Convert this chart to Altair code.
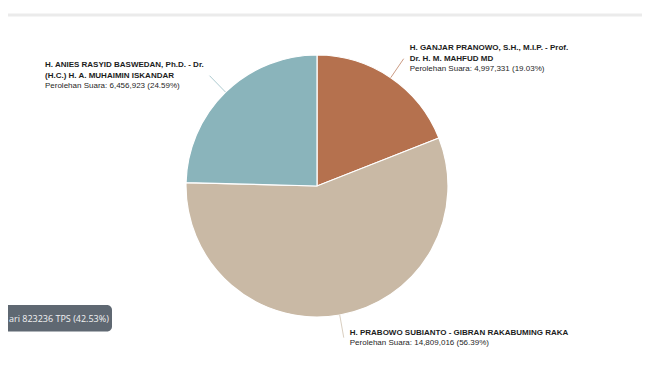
import math
import altair as alt
import pandas as pd

# ---------------- data ----------------
name_lines = [
    ["H. GANJAR PRANOWO, S.H., M.I.P. - Prof.", "Dr. H. M. MAHFUD MD"],
    ["H. PRABOWO SUBIANTO - GIBRAN RAKABUMING RAKA"],
    ["H. ANIES RASYID BASWEDAN, Ph.D. - Dr.", "(H.C.) H. A. MUHAIMIN ISKANDAR"],
]
votes = [4997331, 14809016, 6456923]
vote_labels = ["4,997,331", "14,809,016", "6,456,923"]
shares = ["19.03%", "56.39%", "24.59%"]
colors = ["#B5714E", "#C9B9A5", "#8AB4BB"]
progress_text = "ari 823236 TPS (42.53%)"

# ---------------- layout / style ----------------
W, H = 634, 350
CX, CY, R = 309, 178, 131
CONN = 23          # connector length
GAP_R, GAP_L = 6, 5
LH = 10.3
FS = 8
FONT = "Liberation Sans"

# Arial-bold advance widths (1/1000 em) for label-block width estimation
_w = {" ": 278, ".": 278, ",": 278, "-": 333, "(": 333, ")": 333, ":": 333, "%": 889}
_w.update({d: 556 for d in "0123456789"})
_w.update(dict(zip("ABCDEFGHIJKLMNOPQRSTUVWXYZ",
                   [722, 722, 722, 722, 667, 611, 778, 722, 278, 556, 722, 611, 833,
                    722, 778, 667, 778, 722, 667, 611, 722, 667, 944, 667, 667, 611])))
_w.update(dict(zip("abcdefghijklmnopqrstuvwxyz",
                   [556, 611, 556, 611, 556, 333, 611, 611, 278, 278, 556, 278, 889,
                    611, 611, 611, 611, 389, 556, 333, 611, 556, 778, 556, 556, 500])))


def text_width(s):
    return sum(_w.get(c, 600) for c in s) / 1000 * FS


total = sum(votes)
pie_df = pd.DataFrame({
    "name": [" ".join(n) for n in name_lines],
    "votes": votes,
    "idx": list(range(len(votes))),
})

conn_rows, line_rows = [], []
cum = 0
for i, v in enumerate(votes):
    mid = (cum + v / 2) / total * 2 * math.pi
    cum += v
    s, c = math.sin(mid), math.cos(mid)
    x0, y0 = CX + R * s, CY - R * c
    x1, y1 = CX + (R + CONN) * s, CY - (R + CONN) * c
    conn_rows.append({"x": x0, "y": y0, "x2": x1, "y2": y1, "idx": i})
    lines = [(t, True) for t in name_lines[i]]
    lines.append((f"Perolehan Suara: {vote_labels[i]} ({shares[i]})", False))
    if s >= 0:
        tx = x1 + GAP_R
    else:
        tx = x1 - GAP_L - max(text_width(t) for t, _ in lines)
    n = len(lines)
    for j, (t, b) in enumerate(lines):
        line_rows.append({"x": tx, "y": y1 + (j - (n - 1) / 2) * LH, "text": t, "bold": b})

conn_df = pd.DataFrame(conn_rows)
lines_df = pd.DataFrame(line_rows)

color_scale = alt.Scale(domain=list(range(len(votes))), range=colors)

pie = alt.Chart(pie_df).mark_arc(radius=R, stroke="white", strokeWidth=1.2).encode(
    theta=alt.Theta("votes:Q", stack=True),
    order=alt.Order("idx:O"),
    color=alt.Color("idx:O", scale=color_scale, legend=None),
    x=alt.value(CX),
    y=alt.value(CY),
)

connectors = alt.Chart(conn_df).mark_rule(strokeWidth=1, opacity=0.7).encode(
    x=alt.X("x:Q", scale=None, axis=None),
    y=alt.Y("y:Q", scale=None, axis=None),
    x2="x2:Q",
    y2="y2:Q",
    color=alt.Color("idx:O", scale=color_scale, legend=None),
)

bold_text = alt.Chart(lines_df).transform_filter("datum.bold").mark_text(
    align="left", baseline="middle", font=FONT, fontSize=FS, fontWeight="bold", color="#1c1c1c"
).encode(
    x=alt.X("x:Q", scale=None, axis=None),
    y=alt.Y("y:Q", scale=None, axis=None),
    text="text:N",
)

normal_text = alt.Chart(lines_df).transform_filter("!datum.bold").mark_text(
    align="left", baseline="middle", font=FONT, fontSize=FS, color="#1f1f1f"
).encode(
    x=alt.X("x:Q", scale=None, axis=None),
    y=alt.Y("y:Q", scale=None, axis=None),
    text="text:N",
)

dummy = pd.DataFrame({"k": [0]})
top_line = alt.Chart(dummy).mark_rule(color="#ebebeb", strokeWidth=3).encode(
    x=alt.value(-10), x2=alt.value(W + 10), y=alt.value(7)
)

badge = alt.Chart(dummy).mark_rect(color="#5f6872", cornerRadius=5).encode(
    x=alt.value(-20), x2=alt.value(104), y=alt.value(297), y2=alt.value(323.5)
)
badge_text = alt.Chart(pd.DataFrame({"t": [progress_text]})).mark_text(
    align="left", baseline="middle", font="Open Sans", fontSize=9, color="#f2f2f2"
).encode(x=alt.value(1), y=alt.value(311), text="t:N")

chart = alt.layer(top_line, pie, connectors, bold_text, normal_text, badge, badge_text).properties(
    width=W, height=H, padding=0, autosize=alt.AutoSizeParams(type="none"), background="white"
).configure_view(stroke=None)

chart.save("out.html", embed_options={"renderer": "svg", "actions": False})
